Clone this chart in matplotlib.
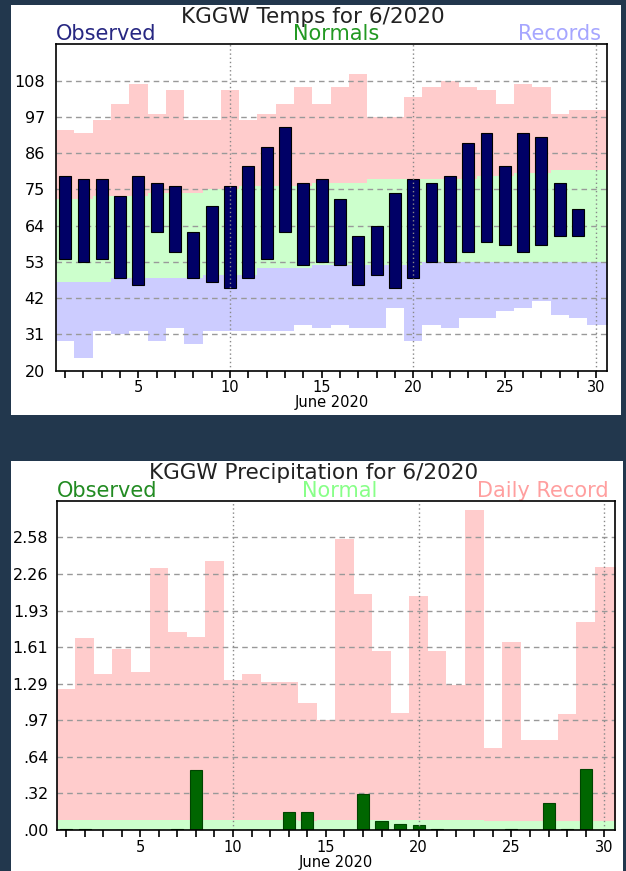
import matplotlib.pyplot as plt
from matplotlib.patches import Rectangle
import numpy as np

# --- Data: temperatures, June 2020 (KGGW) ---
days = np.arange(1, 31)
rec_high = [93, 92, 96, 101, 107, 98, 105, 96, 96, 105, 96, 98, 101, 106, 101,
            106, 110, 97, 97, 103, 106, 108, 106, 105, 101, 107, 106, 98, 99, 99]
norm_high = [72, 72, 73, 73, 73, 74, 74, 74, 75, 75, 76, 76, 76, 76, 77,
             77, 77, 78, 78, 78, 78, 78, 78, 79, 79, 80, 80, 81, 81, 81]
norm_low = [47, 47, 47, 48, 48, 48, 48, 48, 49, 49, 49, 51, 51, 51, 52,
            52, 52, 52, 52, 52, 53, 53, 53, 53, 53, 53, 53, 53, 53, 53]
rec_low = [29, 24, 32, 31, 32, 29, 33, 28, 32, 32, 32, 32, 32, 34, 33,
           34, 33, 33, 39, 29, 34, 33, 36, 36, 38, 39, 41, 37, 36, 34]
obs_high = [79, 78, 78, 73, 79, 77, 76, 62, 70, 76, 82, 88, 94, 77, 78,
            72, 61, 64, 74, 78, 77, 79, 89, 92, 82, 92, 91, 77, 69, np.nan]
obs_low = [54, 53, 54, 48, 46, 62, 56, 48, 47, 45, 48, 54, 62, 52, 53,
           52, 46, 49, 45, 48, 53, 53, 56, 59, 58, 56, 58, 61, 61, np.nan]
temp_ticks = [20, 31, 42, 53, 64, 75, 86, 97, 108]

# --- Data: precipitation ---
rec_precip = [1.24, 1.69, 1.37, 1.59, 1.39, 2.31, 1.74, 1.70, 2.37, 1.32, 1.37, 1.30, 1.30, 1.12, 0.97,
              2.56, 2.08, 1.58, 1.03, 2.06, 1.58, 1.28, 2.82, 0.72, 1.66, 0.79, 0.79, 1.02, 1.83, 2.32]
norm_precip = [0.09, 0.09, 0.09, 0.09, 0.09, 0.09, 0.09, 0.09, 0.09, 0.09, 0.09, 0.09, 0.09, 0.08, 0.09,
               0.09, 0.09, 0.09, 0.09, 0.09, 0.09, 0.09, 0.09, 0.08, 0.08, 0.08, 0.08, 0.08, 0.08, 0.08]
obs_precip = [0.01, 0.01, 0, 0, 0, 0, 0.01, 0.53, 0, 0, 0, 0, 0.16, 0.16, 0,
              0, 0.32, 0.08, 0.05, 0.04, 0.01, 0, 0, 0, 0.01, 0, 0.24, 0.01, 0.54, 0]
precip_ticks = [0, 0.322, 0.644, 0.967, 1.289, 1.611, 1.933, 2.256, 2.578]
precip_labels = [".00", ".32", ".64", ".97", "1.29", "1.61", "1.93", "2.26", "2.58"]

# --- Setup ---
bg = '#22374d'
fig = plt.figure(figsize=(6.26, 8.71), dpi=100, facecolor=bg)
W, H = 626, 871
fig.patches.append(Rectangle((11 / W, 1 - 415 / H), 610 / W, 410 / H,
                             transform=fig.transFigure, facecolor='white', zorder=-1))
fig.patches.append(Rectangle((11 / W, 0), 612 / W, 410 / H,
                             transform=fig.transFigure, facecolor='white', zorder=-1))

ax1 = fig.add_axes([56 / W, 1 - 370.7 / H, 551 / W, 326.4 / H])
ax2 = fig.add_axes([56.7 / W, 1 - 830 / H, 558.3 / W, 329.3 / H])

edges = np.append(days - 0.5, 31)


def steps(vals):
    return np.append(vals, vals[-1])


def style_axes(ax):
    ax.set_xlim(0.5, 30.58)
    ax.set_xticks(days)
    ax.set_xticklabels([str(d) if d % 5 == 0 else '' for d in days], fontsize=10.5)
    ax.tick_params(axis='x', length=5, width=1.2, pad=2, direction='out')
    ax.tick_params(axis='y', length=0, labelsize=11.5)
    ax.set_xlabel("June 2020", fontsize=10.5, labelpad=0)
    for x in [10, 20, 30]:
        ax.axvline(x, color='#888888', ls=(0, (1, 2)), lw=1, zorder=3)
    for s in ax.spines.values():
        s.set_color('black')
        s.set_linewidth(1.2)
        s.set_zorder(4)


# --- Temps ---
ax1.fill_between(edges, steps(norm_high), steps(rec_high), step='post', color='#ffcccc', lw=0, zorder=1)
ax1.fill_between(edges, steps(norm_low), steps(norm_high), step='post', color='#ccffcc', lw=0, zorder=1)
ax1.fill_between(edges, steps(rec_low), steps(norm_low), step='post', color='#ccccff', lw=0, zorder=1)
for t in temp_ticks[1:]:
    ax1.axhline(t, color='#999999', ls=(0, (4, 3)), lw=1, zorder=1.5)
obs_high = np.array(obs_high)
obs_low = np.array(obs_low)
ax1.bar(days, obs_high - obs_low, bottom=obs_low, width=0.65,
        color='#000066', edgecolor='black', lw=0.8, zorder=2)
ax1.set_ylim(20, 119)
ax1.set_yticks(temp_ticks)
ax1.tick_params(axis='y', pad=8)
style_axes(ax1)

fig.text(0.5, 1 - 22.7 / H, "KGGW Temps for 6/2020", ha='center', va='baseline',
         fontsize=15.5, color='#222222')
ax1.text(0, 1.012, "Observed", transform=ax1.transAxes, ha='left', va='baseline',
         fontsize=15, color='#272782')
ax1.text(0.508, 1.012, "Normals", transform=ax1.transAxes, ha='center', va='baseline',
         fontsize=15, color='#229922')
ax1.text(0.99, 1.012, "Records", transform=ax1.transAxes, ha='right', va='baseline',
         fontsize=15, color='#a6a6ff')

# --- Precipitation ---
ax2.fill_between(edges, 0, steps(rec_precip), step='post', color='#ffcccc', lw=0, zorder=1)
ax2.fill_between(edges, 0, steps(norm_precip), step='post', color='#ccffcc', lw=0, zorder=1)
for t in precip_ticks[1:]:
    ax2.axhline(t, color='#999999', ls=(0, (4, 3)), lw=1, zorder=1.5)
ax2.bar(days, obs_precip, width=0.65, color='#006600', edgecolor='#004400', lw=0.8, zorder=2)
ax2.set_ylim(0, 2.9)
ax2.set_yticks(precip_ticks)
ax2.set_yticklabels(precip_labels)
ax2.tick_params(axis='y', pad=6)
style_axes(ax2)

fig.text(0.5016, 1 - 479.3 / H, "KGGW Precipitation for 6/2020", ha='center', va='baseline',
         fontsize=15.5, color='#222222')
ax2.text(0, 1.012, "Observed", transform=ax2.transAxes, ha='left', va='baseline',
         fontsize=15, color='#228b22')
ax2.text(0.506, 1.012, "Normal", transform=ax2.transAxes, ha='center', va='baseline',
         fontsize=15, color='#88ff88')
ax2.text(0.989, 1.012, "Daily Record", transform=ax2.transAxes, ha='right', va='baseline',
         fontsize=15, color='#ff9f9f')

plt.savefig("out.png", dpi=100, facecolor=bg)
